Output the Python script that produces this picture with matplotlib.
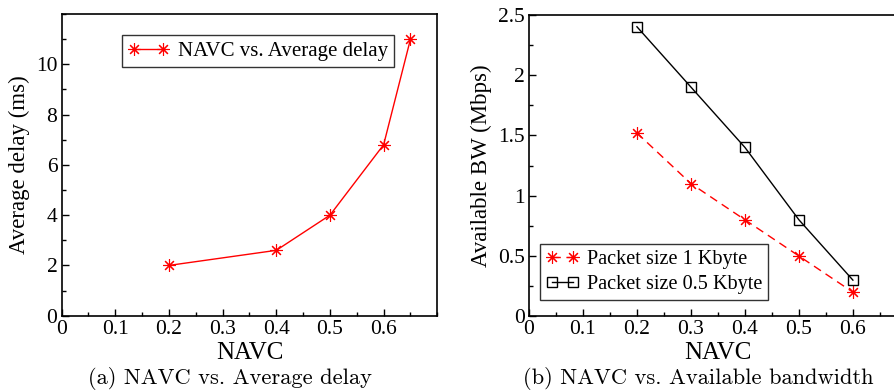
import matplotlib
matplotlib.use("Agg")
import matplotlib.pyplot as plt
from matplotlib.ticker import MultipleLocator, FuncFormatter

# Data
navc_a = [0.2, 0.4, 0.5, 0.6, 0.65]
delay_a = [2.0, 2.6, 4.0, 6.8, 11.0]

navc_b = [0.2, 0.3, 0.4, 0.5, 0.6]
bw_1k = [1.52, 1.10, 0.80, 0.50, 0.20]
bw_05k = [2.40, 1.90, 1.40, 0.80, 0.30]

x_ticks = [0, 0.1, 0.2, 0.3, 0.4, 0.5, 0.6]
y_ticks_a = [0, 2, 4, 6, 8, 10]
y_ticks_b = [0, 0.5, 1, 1.5, 2, 2.5]

label_a = "NAVC vs. Average delay"
label_b1 = "Packet size 1 Kbyte"
label_b2 = "Packet size 0.5 Kbyte"
caption_a = "(a) NAVC vs. Average delay"
caption_b = "(b) NAVC vs. Available bandwidth"

plt.rcParams['font.family'] = ['Liberation Serif', 'DejaVu Serif']

fig = plt.figure(figsize=(8.95, 3.91), dpi=100)
star = (8, 2, 0)

def fmt(v, pos):
    return "%g" % round(v, 4)

def style(ax):
    ax.tick_params(which='both', direction='in', labelsize=15.5, pad=3)
    ax.tick_params(which='major', length=5, width=1)
    ax.tick_params(which='minor', length=3, width=1)
    for s in ax.spines.values():
        s.set_linewidth(1.2)
    ax.xaxis.set_minor_locator(MultipleLocator(0.05))
    ax.xaxis.set_major_formatter(FuncFormatter(fmt))
    ax.yaxis.set_major_formatter(FuncFormatter(fmt))

# Left axes
ax1 = fig.add_axes([0.0689, 0.1926, 0.4197, 0.7716])
ax1.plot(navc_a, delay_a, color='red', lw=1, marker=star, ms=9, mew=0.8,
         label=label_a)
ax1.set_xlim(0, 0.7)
ax1.set_ylim(0, 12)
ax1.yaxis.set_minor_locator(MultipleLocator(1))
style(ax1)
ax1.set_xticks(x_ticks)
ax1.set_yticks(y_ticks_a)
ax1.set_xlabel("NAVC", fontsize=18, labelpad=2)
ax1.set_ylabel("Average delay (ms)", fontsize=16.5, labelpad=4)
leg1 = ax1.legend(loc='upper left', bbox_to_anchor=(0.16, 0.93), fontsize=15,
                  frameon=True, fancybox=False, edgecolor='black',
                  handlelength=2.0, borderpad=0.3, handletextpad=0.4,
                  numpoints=2, borderaxespad=0)
leg1.get_frame().set_linewidth(1.0)

# Right axes
ax2 = fig.add_axes([0.591, 0.191, 0.4223, 0.7714])
ax2.plot(navc_b, bw_1k, color='red', lw=1, ls=(0, (6, 4)), marker=star, ms=9,
         mew=0.8, label=label_b1)
ax2.plot(navc_b, bw_05k, color='black', lw=1, marker='s', ms=7.5,
         mfc='none', mec='black', mew=1, label=label_b2)
ax2.set_xlim(0, 0.7)
ax2.set_ylim(0, 2.5)
ax2.yaxis.set_minor_locator(MultipleLocator(0.25))
style(ax2)
ax2.set_xticks(x_ticks)
ax2.set_yticks(y_ticks_b)
ax2.set_xlabel("NAVC", fontsize=18, labelpad=2)
ax2.set_ylabel("Available BW (Mbps)", fontsize=16.5, labelpad=4)
leg2 = ax2.legend(loc='lower left', bbox_to_anchor=(0.03, 0.053), fontsize=14.6,
                  frameon=True, fancybox=False, edgecolor='black',
                  handlelength=1.6, borderpad=0.3, handletextpad=0.4,
                  numpoints=2, borderaxespad=0, labelspacing=0.3)
leg2.get_frame().set_linewidth(1.0)

# Captions
fig.text(0.2564, 0.003, caption_a, ha='center', va='bottom', fontsize=16.2,
         family=['cmr10', 'DejaVu Serif'])
fig.text(0.78, 0.003, caption_b, ha='center', va='bottom', fontsize=16.2,
         family=['cmr10', 'DejaVu Serif'])

fig.savefig("out.png", dpi=100)
